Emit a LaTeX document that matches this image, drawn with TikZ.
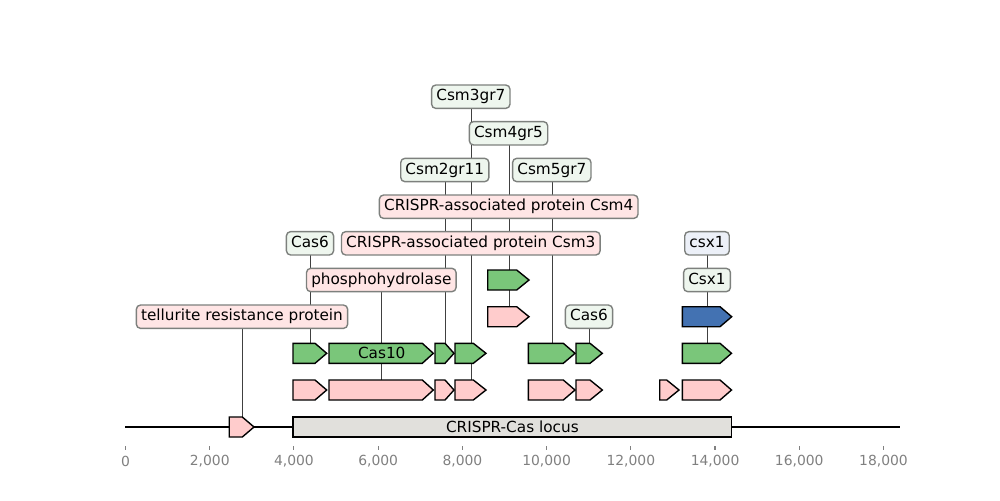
\documentclass[tikz,border=0pt]{standalone}
\usepackage{fontspec}
\setmainfont{DejaVu Sans}
\definecolor{lblgreen}{RGB}{238,246,238}
\definecolor{lblpink}{RGB}{255,229,229}
\definecolor{lblblue}{RGB}{236,240,248}
\definecolor{lblborder}{RGB}{125,128,125}
\definecolor{featgreen}{RGB}{122,198,122}
\definecolor{featpink}{RGB}{255,204,204}
\definecolor{featblue}{RGB}{67,114,178}
\definecolor{locusgray}{RGB}{225,224,220}
\definecolor{tickgray}{RGB}{128,128,128}
\pgfdeclarelayer{bg}
\pgfsetlayers{bg,main}
% one gene arrow: style, left, tip start, right, row, name of its centre
\newcommand{\genearrow}[6]{%
  \draw[#1] (#2,#5-10) -- (#3,#5-10) -- (#4,#5) -- (#3,#5+10) -- (#2,#5+10) -- cycle;
  \coordinate (#6) at ({(#2+#4)/2+0.6},#5);}
\begin{document}
\begin{tikzpicture}[x=0.72pt,y=-0.72pt,
  lbl/.style={draw=lblborder, line width=1pt, rounded corners=3pt,
    inner xsep=3.4pt, inner ysep=3.2pt, text height=8.2pt, text depth=2.2pt,
    font=\fontsize{11}{13}\selectfont},
  lblg/.style={lbl, fill=lblgreen},
  lblp/.style={lbl, fill=lblpink},
  lblb/.style={lbl, fill=lblblue},
  leader/.style={line width=0.6pt, draw=black!75},
  gfeat/.style={draw=black, line width=1pt, fill=featgreen},
  pfeat/.style={draw=black, line width=1pt, fill=featpink},
  bfeat/.style={draw=black, line width=1pt, fill=featblue},
  inl/.style={font=\fontsize{11}{13}\selectfont, inner sep=0pt},
  ticklbl/.style={font=\fontsize{10}{12}\selectfont, text=tickgray, inner sep=0pt}]
\useasboundingbox (0,0) rectangle (1000,500);

% sequence line
\draw[line width=1.6pt] (125,427) coordinate (seqL) -- (899.5,427) coordinate (seqR);

% axis ticks and labels
\foreach \i/\t in {0/0,1/{2,000},2/{4,000},3/{6,000},4/{8,000},5/{10,000},6/{12,000},7/{14,000},8/{16,000},9/{18,000}}{
  \draw[tickgray, line width=0.8pt] ({125.5+\i*84.22},446) -- ({125.5+\i*84.22},449.5);
  \node[ticklbl] (tk\i) at ({125.5+\i*84.22},461.5) {\t};
}

% locus box
\node[draw=black, line width=1pt, fill=locusgray, minimum width=438.7*0.72pt,
  minimum height=20*0.72pt, inner sep=0pt, font=\fontsize{11}{13}\selectfont]
  (locus) at (512.35,427) {CRISPR-Cas locus};

% small gene outside the locus
\genearrow{pfeat}{229.3}{242.3}{254}{427}{fsp}

% pink row
\genearrow{pfeat}{293}{315}{326.7}{390}{p1}
\genearrow{pfeat}{329}{422.3}{433.3}{390}{p2}
\genearrow{pfeat}{435}{445}{454}{390}{p3}
\genearrow{pfeat}{455}{473.3}{486}{390}{p4}
\genearrow{pfeat}{528.3}{563.3}{575}{390}{p5}
\genearrow{pfeat}{576}{590}{602.3}{390}{p6}
\genearrow{pfeat}{659.7}{666.7}{679}{390}{p7}
\genearrow{pfeat}{682.3}{720}{731.5}{390}{p8}

% green row
\genearrow{gfeat}{293}{315}{326.7}{353.3}{g1}
\genearrow{gfeat}{329}{422.3}{433.3}{353.3}{g2}
\genearrow{gfeat}{435}{445}{454}{353.3}{g3}
\genearrow{gfeat}{455}{473.3}{486}{353.3}{g4}
\genearrow{gfeat}{528.3}{563.3}{575}{353.3}{g5}
\genearrow{gfeat}{576}{590}{602.3}{353.3}{g6}
\genearrow{gfeat}{682.3}{720}{731.5}{353.3}{g7}
\node[inl] (cas10) at (g2) {Cas10};

% upper rows
\genearrow{pfeat}{487.7}{516.7}{529}{316.7}{up}
\genearrow{bfeat}{682.3}{720}{731.7}{316.7}{bl}
\genearrow{gfeat}{487.7}{516.7}{529}{280}{ug}

% labels
\node[lblg] (l1) at (470.8,96.7) {Csm3gr7};
\node[lblg] (l2) at (508.5,133.3) {Csm4gr5};
\node[lblg] (l3) at (444.8,170) {Csm2gr11};
\node[lblg] (l4) at (551.8,170) {Csm5gr7};
\node[lblp] (l5) at (508.7,206.7) {CRISPR-associated protein Csm4};
\node[lblg] (l6) at (310,243.3) {Cas6};
\node[lblp] (l7) at (470.8,243.3) {CRISPR-associated protein Csm3};
\node[lblb] (l8) at (707,243.3) {csx1};
\node[lblp] (l9) at (381.3,280) {phosphohydrolase};
\node[lblg] (l10) at (707,280) {Csx1};
\node[lblp] (l11) at (242,316.7) {tellurite resistance protein};
\node[lblg] (l12) at (589,316.7) {Cas6};

% leader lines, behind boxes and genes
\begin{pgfonlayer}{bg}
  \foreach \l/\f in {l11/fsp, l6/g1, l9/p2, l3/g3, l1/g4, l7/p4, l2/ug, l5/up, l4/g5, l12/g6, l8/bl, l10/g7}{
    \draw[leader] (\f |- \l) -- (\f);
  }
\end{pgfonlayer}
\end{tikzpicture}
\end{document}
